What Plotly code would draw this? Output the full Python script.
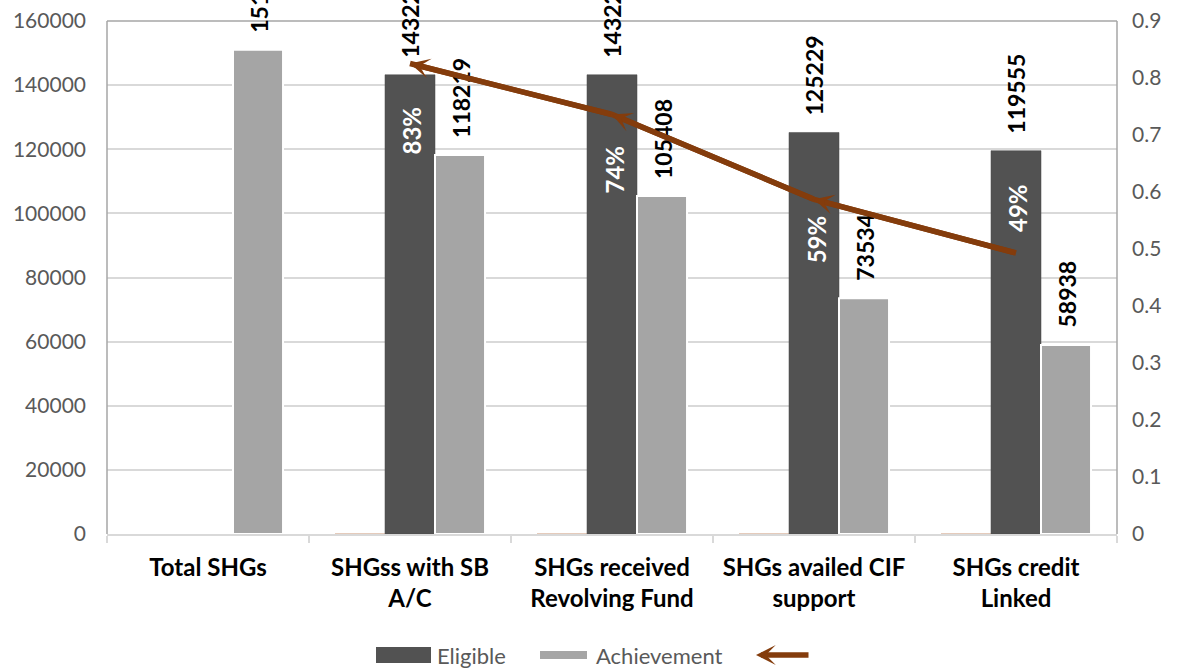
import plotly.graph_objects as go

# ---- data ---------------------------------------------------------------
categories = [
    "Total SHGs",
    "SHGss with SB<br>A/C",
    "SHGs received<br>Revolving Fund",
    "SHGs availed CIF<br>support",
    "SHGs credit<br>Linked",
]
eligible = [None, 143229, 143229, 125229, 119555]
achievement = [151018, 118219, 105408, 73534, 58938]
share = [None, 0.8254, 0.7360, 0.5872, 0.4930]

# ---- styling ------------------------------------------------------------
FONT = "Lato"
DARK = "#525252"
LIGHT = "#A5A5A5"
BROWN = "#843C0C"
TAN = "#DDBBA5"
GRID = "#D9D9D9"
TICK_TXT = "#595959"

W, H = 1179, 671
ML, MR, MT, MB = 107, 62, 21, 137
PW, PH = W - ML - MR, H - MT - MB


def px_x(px):
    return (px - ML) / PW


def px_y(py):
    return (H - MB - py) / PH


fig = go.Figure()

# tiny ratio bars sitting on the primary axis (show as a thin line at the base)
fig.add_trace(go.Bar(
    x=categories, y=share, name="ratio",
    marker=dict(color=TAN, line=dict(color=TAN, width=1.5)),
    showlegend=False, hoverinfo="skip",
))
fig.add_trace(go.Bar(
    x=categories, y=eligible, name="Eligible",
    marker=dict(color=DARK, line=dict(color="#4A4A4A", width=0.5)),
    showlegend=False,
))
fig.add_trace(go.Bar(
    x=categories, y=achievement, name="Achievement",
    marker=dict(color=LIGHT, line=dict(color="white", width=2)),
    showlegend=False,
))
fig.add_trace(go.Scatter(
    x=categories, y=share, yaxis="y2", mode="lines",
    line=dict(color=BROWN, width=5.5),
    showlegend=False, connectgaps=False,
))

annotations = []

# value labels above the bars
BAR_OFFSET = {"e": 0, "a": 51}
for cat, val in zip(categories, eligible):
    if val is None:
        continue
    annotations.append(dict(
        x=cat, y=val, xref="x", yref="y", text=str(val), showarrow=False,
        textangle=-90, yanchor="bottom", xanchor="center",
        xshift=BAR_OFFSET["e"], yshift=15,
        font=dict(family=FONT, size=23, color="black", weight="bold"),
    ))
for cat, val in zip(categories, achievement):
    annotations.append(dict(
        x=cat, y=val, xref="x", yref="y", text=str(val), showarrow=False,
        textangle=-90, yanchor="bottom", xanchor="center",
        xshift=BAR_OFFSET["a"], yshift=15,
        font=dict(family=FONT, size=23, color="black", weight="bold"),
    ))

# percentage labels for the ratio line
pct_shift = [None, -67, -55, -40, 45]
for cat, val, dy in zip(categories, share, pct_shift):
    if val is None:
        continue
    annotations.append(dict(
        x=cat, y=val, xref="x", yref="y2", text=f"{round(val * 100)}%",
        showarrow=False, textangle=-90, yshift=dy, xshift=2,
        font=dict(family=FONT, size=24, color="white", weight="bold"),
    ))

# arrowheads at the start of every line segment
pts = [(c, v) for c, v in zip(categories, share) if v is not None]
for (c0, v0), (c1, v1) in zip(pts[:-1], pts[1:]):
    annotations.append(dict(
        x=c0, y=v0, xref="x", yref="y2", ax=c1, ay=v1, axref="x", ayref="y2",
        text="", showarrow=True, arrowhead=3, arrowsize=0.6, arrowwidth=5.5,
        arrowcolor=BROWN, standoff=0,
    ))

# legend
shapes = [
    dict(type="rect", xref="paper", yref="paper",
         x0=px_x(376), x1=px_x(431), y0=px_y(663), y1=px_y(647),
         fillcolor=DARK, line=dict(width=0)),
    dict(type="rect", xref="paper", yref="paper",
         x0=px_x(540), x1=px_x(587), y0=px_y(659), y1=px_y(651),
         fillcolor=LIGHT, line=dict(width=0)),
    # plot-area frame (left, top, right)
    dict(type="line", xref="paper", yref="paper", x0=0, x1=0, y0=0, y1=1,
         line=dict(color="#A6A6A6", width=1.5)),
    dict(type="line", xref="paper", yref="paper", x0=0, x1=1, y0=1, y1=1,
         line=dict(color="#A6A6A6", width=1.5)),
    dict(type="line", xref="paper", yref="paper", x0=1, x1=1, y0=0, y1=1,
         line=dict(color="#A6A6A6", width=1.5)),
]
annotations += [
    dict(x=px_x(435), y=px_y(655), xref="paper", yref="paper", text="Eligible",
         showarrow=False, xanchor="left", yanchor="middle",
         font=dict(family=FONT, size=22, color=TICK_TXT)),
    dict(x=px_x(594), y=px_y(655), xref="paper", yref="paper", text="Achievement",
         showarrow=False, xanchor="left", yanchor="middle",
         font=dict(family=FONT, size=22, color=TICK_TXT)),
    dict(x=px_x(756), y=px_y(655), xref="paper", yref="paper", text="",
         ax=54, ay=0, showarrow=True, arrowhead=3, arrowsize=0.6, arrowwidth=5.5,
         arrowcolor=BROWN, standoff=0),
]

fig.update_layout(
    width=W, height=H,
    margin=dict(l=ML, r=MR, t=MT, b=MB, pad=0, autoexpand=False),
    paper_bgcolor="white", plot_bgcolor="white",
    barmode="group", bargap=0.257, bargroupgap=0,
    font=dict(family=FONT, color=TICK_TXT),
    xaxis=dict(
        type="category", showgrid=False, showline=True, linecolor=GRID,
        linewidth=1.5, ticks="outside", tickson="boundaries", ticklen=7,
        tickcolor=GRID, tickwidth=1.5, automargin=False,
        tickfont=dict(family=FONT, size=24, color="black", weight="bold"),
        ticklabelstandoff=11,
    ),
    yaxis=dict(
        range=[0, 160000], dtick=20000, tickformat="d", automargin=False,
        showgrid=True, gridcolor=GRID, gridwidth=1.5, zeroline=False,
        showline=False, tickfont=dict(family=FONT, size=21, color=TICK_TXT),
        ticklabelstandoff=20,
    ),
    yaxis2=dict(
        overlaying="y", side="right", range=[0, 0.9], dtick=0.1,
        showgrid=False, zeroline=False, showline=False, automargin=False,
        tickfont=dict(family=FONT, size=21, color=TICK_TXT),
        ticklabelstandoff=14,
    ),
    annotations=annotations,
    shapes=shapes,
    showlegend=False,
)

fig.write_html("out.html")
